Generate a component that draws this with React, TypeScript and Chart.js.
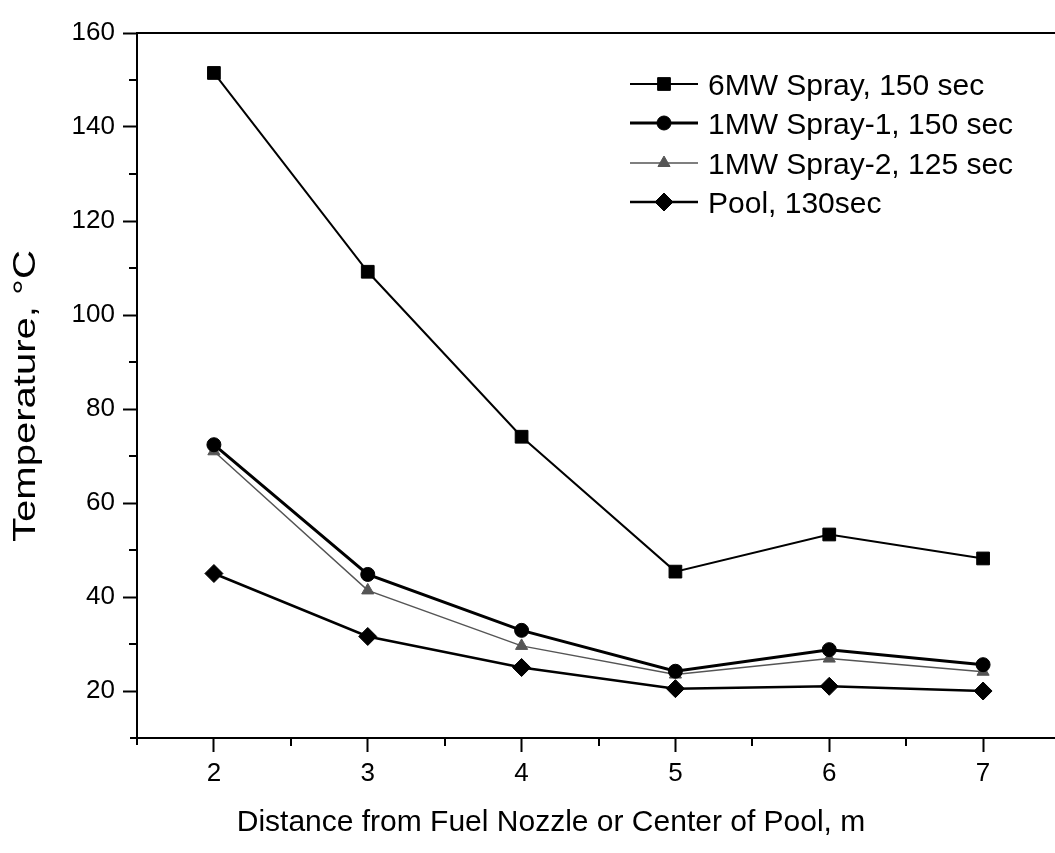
import React, { useEffect, useRef } from "react";
import { Chart, registerables } from "chart.js";

Chart.register(...registerables);

// ---- data ----
const distances = [2, 3, 4, 5, 6, 7];
const spray6MW = [151.5, 109.2, 74.1, 45.4, 53.3, 48.2];
const spray1MW1 = [72.4, 44.8, 32.9, 24.2, 28.8, 25.6];
const spray1MW2 = [71.0, 41.4, 29.6, 23.5, 26.9, 24.1];
const pool = [45.0, 31.6, 25.0, 20.5, 21.0, 20.0];
const seriesLabels = [
  "6MW Spray, 150 sec",
  "1MW Spray-1, 150 sec",
  "1MW Spray-2, 125 sec",
  "Pool, 130sec",
];
const xTicks = [2, 3, 4, 5, 6, 7];
const xMinorTicks = [2.5, 3.5, 4.5, 5.5, 6.5, 7.5];
const yTicks = [20, 40, 60, 80, 100, 120, 140, 160];
const yMinorTicks = [30, 50, 70, 90, 110, 130, 150];
const xTitle = "Distance from Fuel Nozzle or Center of Pool, m";
const yTitle = "Temperature, \u00B0C";

const FONT = "'Liberation Sans', Arial, Helvetica, sans-serif";

function pts(vals: number[]) {
  return distances.map((x, i) => ({ x, y: vals[i] }));
}

const overlayPlugin = {
  id: "overlay",
  afterDatasetsDraw(chart: any) {
    const { ctx, chartArea } = chart;
    const xs = chart.scales.x;
    const ys = chart.scales.y;
    ctx.save();
    ctx.strokeStyle = "#000";
    ctx.lineWidth = 2;
    // top & right frame
    ctx.beginPath();
    ctx.moveTo(chartArea.left - 1, chartArea.top);
    ctx.lineTo(chartArea.right, chartArea.top);
    ctx.lineTo(chartArea.right, chartArea.bottom);
    ctx.stroke();
    // axis overhangs at the corner
    ctx.beginPath();
    ctx.moveTo(chartArea.left - 7, chartArea.bottom);
    ctx.lineTo(chartArea.left, chartArea.bottom);
    ctx.moveTo(chartArea.left, chartArea.bottom);
    ctx.lineTo(chartArea.left, chartArea.bottom + 7);
    ctx.stroke();
    // minor ticks
    ctx.beginPath();
    xMinorTicks.forEach((v) => {
      const px = Math.round(xs.getPixelForValue(v));
      ctx.moveTo(px, chartArea.bottom);
      ctx.lineTo(px, chartArea.bottom + 8);
    });
    yMinorTicks.forEach((v) => {
      const py = Math.round(ys.getPixelForValue(v));
      ctx.moveTo(chartArea.left, py);
      ctx.lineTo(chartArea.left - 8, py);
    });
    ctx.stroke();

    // x title
    ctx.fillStyle = "#000";
    ctx.font = `30px ${FONT}`;
    ctx.textAlign = "center";
    ctx.textBaseline = "middle";
    ctx.fillText(xTitle, 551, 823);

    // y title (rotated, stretched along its length)
    ctx.save();
    ctx.font = `31px ${FONT}`;
    ctx.translate(35, 396);
    ctx.rotate(-Math.PI / 2);
    const w = ctx.measureText(yTitle).width;
    ctx.scale(292 / w, 1);
    ctx.textAlign = "center";
    ctx.textBaseline = "alphabetic";
    ctx.fillText(yTitle, 0, 0);
    ctx.restore();

    // legend
    const rowY = [84, 123, 163, 202];
    const x0 = 630, x1 = 698, xm = 664, xt = 708;
    chart.data.datasets.forEach((ds: any, i: number) => {
      const y = rowY[i];
      ctx.strokeStyle = ds.borderColor;
      ctx.lineWidth = ds.borderWidth;
      ctx.beginPath();
      ctx.moveTo(x0, y);
      ctx.lineTo(x1, y);
      ctx.stroke();
      const meta = chart.getDatasetMeta(i);
      const el = meta.data[0];
      if (el) {
        const opts = el.options;
        ctx.fillStyle = opts.backgroundColor;
        ctx.strokeStyle = opts.borderColor;
        ctx.lineWidth = opts.borderWidth;
        const r = opts.radius;
        ctx.beginPath();
        if (ds.pointStyle === "rect") {
          const s = Math.SQRT1_2 * r;
          ctx.rect(xm - s, y - s, 2 * s, 2 * s);
        } else if (ds.pointStyle === "circle") {
          ctx.arc(xm, y, r, 0, Math.PI * 2);
        } else if (ds.pointStyle === "triangle") {
          ctx.moveTo(xm, y - r);
          ctx.lineTo(xm + r * 0.866, y + r * 0.5);
          ctx.lineTo(xm - r * 0.866, y + r * 0.5);
          ctx.closePath();
        } else {
          ctx.moveTo(xm - r, y);
          ctx.lineTo(xm, y - r);
          ctx.lineTo(xm + r, y);
          ctx.lineTo(xm, y + r);
          ctx.closePath();
        }
        ctx.fill();
        ctx.stroke();
      }
      ctx.fillStyle = "#000";
      ctx.font = `30px ${FONT}`;
      ctx.textAlign = "left";
      ctx.textBaseline = "middle";
      ctx.fillText(ds.label, xt, y + 3);
    });
    ctx.restore();
  },
};

export default function App() {
  const ref = useRef<HTMLCanvasElement | null>(null);
  useEffect(() => {
    if (!ref.current) return;
    const chart = new Chart(ref.current, {
      type: "line",
      data: {
        datasets: [
          {
            label: seriesLabels[0],
            data: pts(spray6MW),
            borderColor: "#000",
            backgroundColor: "#000",
            borderWidth: 2,
            pointStyle: "rect",
            pointRadius: 9,
            pointBorderWidth: 1,
          },
          {
            label: seriesLabels[1],
            data: pts(spray1MW1),
            borderColor: "#000",
            backgroundColor: "#000",
            borderWidth: 3,
            pointStyle: "circle",
            pointRadius: 7,
            pointBorderWidth: 1,
          },
          {
            label: seriesLabels[2],
            data: pts(spray1MW2),
            borderColor: "#555",
            backgroundColor: "#555",
            borderWidth: 1.5,
            pointStyle: "triangle",
            pointRadius: 7,
            pointBorderWidth: 1,
          },
          {
            label: seriesLabels[3],
            data: pts(pool),
            borderColor: "#000",
            backgroundColor: "#000",
            borderWidth: 2.5,
            pointStyle: "rectRot",
            pointRadius: 9,
            pointBorderWidth: 1,
          },
        ] as any,
      },
      options: {
        animation: false,
        responsive: false,
        maintainAspectRatio: false,
        events: [],
        layout: { padding: { left: 0, top: 33, right: 15, bottom: 0 } },
        plugins: {
          legend: { display: false },
          tooltip: { enabled: false },
        },
        elements: { line: { tension: 0 } },
        scales: {
          x: {
            type: "linear",
            min: 1.5,
            max: 7.5,
            afterBuildTicks: (s: any) => {
              s.ticks = xTicks.map((v) => ({ value: v }));
            },
            afterFit: (s: any) => {
              s.height = 853 - 738;
            },
            grid: {
              drawOnChartArea: false,
              drawTicks: true,
              tickLength: 14,
              tickWidth: 2,
              tickColor: "#000",
            },
            border: { display: true, color: "#000", width: 2 },
            ticks: {
              color: "#000",
              font: { family: FONT, size: 26 },
              padding: 6,
              maxRotation: 0,
              autoSkip: false,
            },
          },
          y: {
            type: "linear",
            min: 10,
            max: 160,
            afterBuildTicks: (s: any) => {
              s.ticks = yTicks.map((v) => ({ value: v }));
            },
            afterFit: (s: any) => {
              s.width = 137;
            },
            grid: {
              drawOnChartArea: false,
              drawTicks: true,
              tickLength: 14,
              tickWidth: 2,
              tickColor: "#000",
            },
            border: { display: true, color: "#000", width: 2 },
            ticks: {
              color: "#000",
              font: { family: FONT, size: 26 },
              padding: 8,
              autoSkip: false,
            },
          },
        },
      },
      plugins: [overlayPlugin],
    });
    return () => chart.destroy();
  }, []);

  return (
    <div
      style={{
        position: "fixed",
        left: 0,
        top: 0,
        width: 1055,
        height: 853,
        overflow: "hidden",
        background: "#fff",
      }}
    >
      <canvas ref={ref} width={1075} height={853} style={{ display: "block" }} />
    </div>
  );
}
